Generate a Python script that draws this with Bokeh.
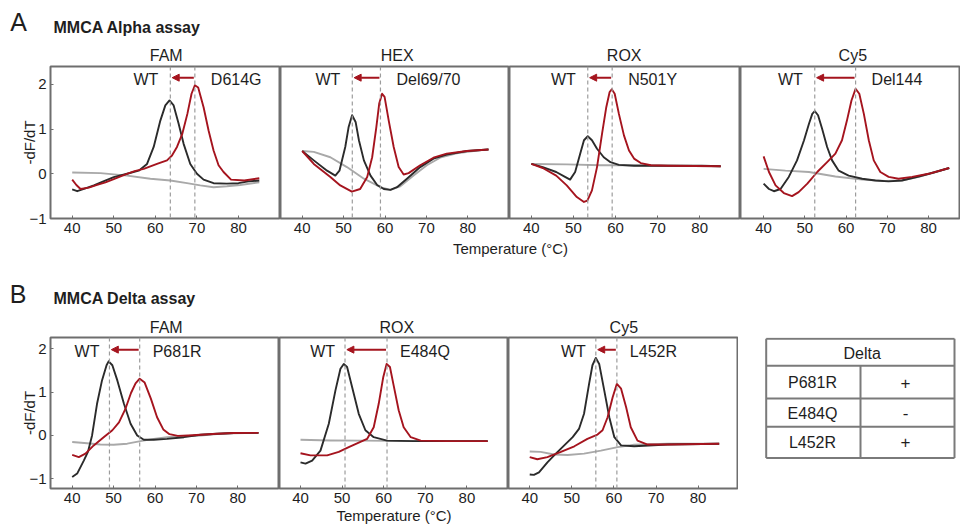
from bokeh.plotting import figure
from bokeh.layouts import column, row
from bokeh.models import Range1d, FixedTicker, Span, Arrow, NormalHead
from bokeh.core.properties import value
from bokeh.embed import file_html
from bokeh.resources import INLINE

FONT = "Liberation Sans"
BLACK = "#2b2b2b"
RED = "#a5141e"
GRAY = "#a9a9a9"
TXT = "#1e1e1e"
FRAME = "#6e6e6e"
DASH = "#9c9c9c"

XTICKS = [40, 50, 60, 70, 80]
YTICKS = [-1, 0, 1, 2]

# ---------------- Alpha assay (A) ----------------
a_fam_wt_t = [40, 41.2, 43, 45.2, 47.5, 50, 53.2, 56, 58, 59.6, 61.2, 62.4, 63.4, 64.4, 65.6, 66.8, 68.4, 70, 71.6, 74, 77.2, 80, 82.4, 85]
a_fam_wt_v = [-0.35, -0.39, -0.33, -0.26, -0.17, -0.075, 0.0, 0.07, 0.22, 0.6, 1.19, 1.53, 1.64, 1.53, 1.12, 0.67, 0.22, 0.0, -0.13, -0.21, -0.22, -0.21, -0.17, -0.15]
a_fam_mu_t = [40, 41, 42, 44, 46, 48, 50, 53, 55, 57.2, 60.4, 62.8, 64, 65.2, 66.5, 67.7, 68.7, 69.5, 70.3, 71.6, 72.8, 74, 75.2, 76.4, 78.2, 81.4, 85]
a_fam_mu_v = [-0.13, -0.25, -0.34, -0.31, -0.25, -0.19, -0.12, -0.01, 0.06, 0.11, 0.22, 0.3, 0.41, 0.6, 0.9, 1.34, 1.79, 1.98, 1.93, 1.49, 0.97, 0.52, 0.19, 0.04, -0.13, -0.15, -0.1]
a_fam_nc_t = [40, 46.8, 53.2, 58.8, 63.6, 67.6, 70.8, 74, 77.2, 80.4, 85]
a_fam_nc_v = [0.03, 0.015, -0.04, -0.11, -0.15, -0.21, -0.26, -0.3, -0.28, -0.25, -0.19]

a_hex_wt_t = [40, 42.8, 46, 48, 49, 50.4, 51.2, 52.05, 52.9, 53.7, 54.9, 56.5, 58.1, 59.7, 61.3, 62.9, 65.3, 68.5, 71.7, 74.9, 79.8, 85]
a_hex_wt_v = [0.51, 0.3, 0.07, -0.04, 0.07, 0.6, 1.04, 1.31, 1.16, 0.75, 0.3, -0.04, -0.25, -0.34, -0.36, -0.3, -0.11, 0.15, 0.34, 0.43, 0.51, 0.545]
a_hex_mu_t = [40, 42.8, 46.8, 49.2, 52, 54, 55.7, 56.9, 57.9, 58.6, 59.3, 59.9, 60.9, 62.1, 63.3, 64.5, 65.7, 68.5, 71.7, 74.9, 79.8, 85]
a_hex_mu_v = [0.51, 0.22, -0.07, -0.26, -0.4, -0.34, -0.07, 0.37, 1.04, 1.57, 1.79, 1.72, 1.19, 0.6, 0.15, -0.015, 0.015, 0.19, 0.36, 0.45, 0.51, 0.545]
a_hex_nc_t = [40, 42.8, 46.8, 50.8, 54.9, 58.9, 61.3, 63.7, 66.9, 70.1, 73.3, 77.3, 81.4, 85]
a_hex_nc_v = [0.51, 0.49, 0.37, 0.15, -0.11, -0.3, -0.36, -0.28, -0.04, 0.19, 0.36, 0.46, 0.51, 0.545]

a_rox_wt_t = [40, 42.7, 45.9, 48.0, 49.2, 50.4, 51.6, 52.5, 53.4, 54.4, 55.6, 57.2, 58.8, 60.8, 64.4, 72.5, 80.5, 85]
a_rox_wt_v = [0.22, 0.15, 0.04, -0.07, -0.13, 0.04, 0.45, 0.75, 0.84, 0.75, 0.56, 0.37, 0.26, 0.2, 0.18, 0.18, 0.18, 0.17]
a_rox_mu_t = [40, 42.7, 45.9, 48.4, 50.8, 52.5, 53.3, 54.4, 55.6, 56.8, 57.8, 58.6, 59.1, 59.8, 60.8, 62.0, 63.2, 64.4, 66.0, 68.4, 72.5, 85]
a_rox_mu_v = [0.22, 0.13, -0.04, -0.26, -0.52, -0.63, -0.6, -0.37, 0.15, 0.9, 1.49, 1.83, 1.89, 1.79, 1.34, 0.86, 0.52, 0.34, 0.24, 0.19, 0.18, 0.17]
a_rox_nc_t = [40, 48.4, 56.4, 64.4, 72.5, 85]
a_rox_nc_v = [0.22, 0.21, 0.19, 0.19, 0.18, 0.17]

a_cy5_wt_t = [40, 41.3, 42.5, 44.1, 46.1, 48.1, 49.8, 51.0, 51.8, 52.4, 53.2, 54.2, 55.4, 56.6, 58.2, 60.6, 63.9, 67.1, 70.3, 73.5, 77.6, 81.6, 85]
a_cy5_wt_v = [-0.22, -0.34, -0.39, -0.34, -0.07, 0.3, 0.75, 1.12, 1.34, 1.4, 1.31, 1.0, 0.6, 0.3, 0.07, -0.04, -0.11, -0.15, -0.17, -0.15, -0.06, 0.04, 0.13]
a_cy5_mu_t = [40, 41.3, 42.9, 44.9, 46.9, 48.5, 50.6, 53.0, 55.4, 57.4, 59.0, 60.2, 61.3, 62.3, 63.2, 64.3, 65.5, 66.7, 68.3, 70.3, 72.7, 76.0, 80.0, 85]
a_cy5_mu_v = [0.39, 0.04, -0.26, -0.43, -0.5, -0.41, -0.22, 0.04, 0.26, 0.45, 0.75, 1.19, 1.64, 1.9, 1.79, 1.34, 0.75, 0.3, 0.04, -0.07, -0.11, -0.07, 0.0, 0.13]
a_cy5_nc_t = [40, 45.3, 51.0, 57.4, 63.9, 69.5, 73.5, 77.6, 81.6, 85]
a_cy5_nc_v = [0.11, 0.07, 0.04, -0.06, -0.13, -0.16, -0.15, -0.07, 0.03, 0.13]

# ---------------- Delta assay (B) ----------------
b_fam_wt_t = [40, 41.2, 42.8, 43.8, 44.8, 46.0, 47.2, 48.3, 48.8, 49.7, 50.9, 52.5, 54.1, 55.7, 57.3, 59.7, 62.9, 67, 71, 75, 79, 85]
b_fam_wt_v = [-0.96, -0.88, -0.58, -0.38, 0.0, 0.73, 1.27, 1.62, 1.71, 1.62, 1.27, 0.73, 0.27, 0.0, -0.1, -0.1, -0.08, -0.04, 0.015, 0.04, 0.055, 0.06]
b_fam_mu_t = [40, 41.6, 43.2, 45.2, 47.6, 49.7, 51.3, 52.8, 54.2, 55.3, 56.3, 57.5, 59.0, 60.5, 62.0, 63.5, 65.5, 68, 71, 75, 79, 85]
b_fam_mu_v = [-0.45, -0.5, -0.42, -0.23, -0.04, 0.12, 0.3, 0.6, 0.98, 1.2, 1.31, 1.22, 0.85, 0.42, 0.14, 0.03, -0.01, 0.0, 0.015, 0.04, 0.055, 0.06]
b_fam_nc_t = [40, 43.6, 46.8, 50, 53.3, 56.5, 59.7, 62.9, 67, 71, 75, 79, 85]
b_fam_nc_v = [-0.15, -0.18, -0.21, -0.215, -0.19, -0.13, -0.08, -0.04, -0.02, 0.0, 0.03, 0.05, 0.06]

b_rox_wt_t = [40, 41.2, 42.8, 44.8, 46.8, 48.4, 49.6, 50.4, 51.2, 52.4, 54, 55.6, 57.6, 60.8, 67.3, 75.3, 85]
b_rox_wt_v = [-0.62, -0.65, -0.58, -0.35, 0.27, 1.04, 1.54, 1.65, 1.58, 1.12, 0.5, 0.12, -0.04, -0.12, -0.13, -0.13, -0.13]
b_rox_mu_t = [40, 42.4, 46.4, 49.2, 51.6, 54.4, 56, 57.6, 58.8, 59.9, 60.7, 61.5, 62.4, 63.6, 64.8, 66.5, 68.9, 75.3, 85]
b_rox_mu_v = [-0.41, -0.46, -0.46, -0.38, -0.27, -0.15, -0.08, 0.19, 0.73, 1.35, 1.65, 1.58, 1.15, 0.58, 0.19, -0.04, -0.12, -0.13, -0.13]
b_rox_nc_t = [40, 47.2, 55, 67.3, 85]
b_rox_nc_v = [-0.1, -0.115, -0.12, -0.13, -0.13]

b_cy5_wt_t = [40, 41, 42.2, 44.2, 46.2, 48.2, 50.2, 51.7, 52.9, 54.1, 54.9, 55.7, 56.5, 57.7, 58.9, 60.1, 61.7, 64.8, 72.8, 85]
b_cy5_wt_v = [-0.9, -0.91, -0.85, -0.62, -0.42, -0.23, -0.04, 0.15, 0.5, 1.19, 1.62, 1.79, 1.65, 1.04, 0.42, -0.04, -0.23, -0.25, -0.21, -0.19]
b_cy5_mu_t = [40, 41.8, 44.2, 47.4, 50.6, 53.7, 56.1, 57.3, 58.5, 59.7, 60.7, 61.7, 62.9, 64, 65.6, 68, 72.8, 85]
b_cy5_mu_v = [-0.5, -0.55, -0.5, -0.38, -0.25, -0.08, 0.02, 0.12, 0.42, 0.88, 1.19, 1.08, 0.65, 0.19, -0.12, -0.21, -0.21, -0.19]
b_cy5_nc_t = [40, 42.6, 45.8, 49, 52.9, 56.9, 60.9, 64.8, 72.8, 85]
b_cy5_nc_v = [-0.37, -0.38, -0.44, -0.45, -0.42, -0.35, -0.27, -0.215, -0.19, -0.19]

# melting temperatures (dashed lines) and labels
alpha_channels = ["FAM", "HEX", "ROX", "Cy5"]
alpha_mutations = ["D614G", "Del69/70", "N501Y", "Del144"]
alpha_wt_tm = [63.6, 52.1, 53.4, 52.4]
alpha_mu_tm = [69.5, 58.9, 59.2, 62.3]

delta_channels = ["FAM", "ROX", "Cy5"]
delta_mutations = ["P681R", "E484Q", "L452R"]
delta_wt_tm = [49.0, 50.7, 55.7]
delta_mu_tm = [56.3, 60.8, 60.7]

table_header = "Delta"
table_rows = ["P681R", "E484Q", "L452R"]
table_vals = ["+", "-", "+"]


def style_axis(ax):
    ax.axis_line_color = None
    ax.major_tick_in = 3
    ax.major_tick_out = 0
    ax.major_tick_line_color = FRAME
    ax.minor_tick_line_color = None
    ax.major_label_text_font = FONT
    ax.major_label_text_font_size = "15px"
    ax.major_label_text_color = TXT


def panel(width, height, xr, yr, min_left, min_right, min_bottom, yaxis, curves,
          wt_tm, mu_tm, mu_label, arrow_y, text_y, wt_off, mu_off, xlabel=None):
    p = figure(width=width, height=height, x_range=Range1d(*xr), y_range=Range1d(*yr),
               toolbar_location=None, output_backend="svg",
               min_border_left=min_left, min_border_right=min_right,
               min_border_top=1, min_border_bottom=min_bottom,
               y_axis_location="left" if yaxis else None)
    p.xgrid.visible = False
    p.ygrid.visible = False
    p.outline_line_color = FRAME
    p.outline_line_width = 2
    p.xaxis.ticker = FixedTicker(ticks=XTICKS)
    style_axis(p.xaxis[0])
    p.xaxis.major_label_standoff = 4
    if xlabel:
        p.xaxis.axis_label = xlabel
        p.xaxis.axis_label_text_font = FONT
        p.xaxis.axis_label_text_font_size = "15px"
        p.xaxis.axis_label_text_font_style = "normal"
        p.xaxis.axis_label_text_color = TXT
        p.xaxis.axis_label_standoff = 1
    if yaxis:
        p.yaxis.ticker = FixedTicker(ticks=YTICKS)
        style_axis(p.yaxis[0])
        p.yaxis.major_label_standoff = 4
        p.yaxis.axis_label = "-dF/dT"
        p.yaxis.axis_label_text_font = FONT
        p.yaxis.axis_label_text_font_size = "15px"
        p.yaxis.axis_label_text_font_style = "normal"
        p.yaxis.axis_label_text_color = TXT
        p.yaxis.axis_label_standoff = -12
    for tm in (wt_tm, mu_tm):
        p.add_layout(Span(location=tm, dimension="height", line_color=DASH,
                          line_dash="4 3", line_width=1.2))
    for t, v, c in curves:
        p.line(t, v, line_color=c, line_width=1.9, line_join="round")
    p.add_layout(Arrow(end=NormalHead(size=7, line_color=RED, fill_color=RED, line_width=1),
                       x_start=mu_tm - 0.25, x_end=wt_tm + 0.45, y_start=arrow_y, y_end=arrow_y,
                       line_color=RED, line_width=2))
    p.text(x=[wt_tm], y=[text_y], text=["WT"], x_offset=wt_off, text_align="right",
           text_baseline="middle", text_font=value(FONT), text_font_size="16px", text_color=TXT)
    p.text(x=[mu_tm], y=[text_y], text=[mu_label], x_offset=mu_off, text_align="left",
           text_baseline="middle", text_font=value(FONT), text_font_size="16px", text_color=TXT)
    return p


def blank(width, height):
    p = figure(width=width, height=height, x_range=Range1d(0, width), y_range=Range1d(height, 0),
               toolbar_location=None, output_backend="svg", min_border=0,
               x_axis_location=None, y_axis_location=None)
    p.xgrid.visible = False
    p.ygrid.visible = False
    p.outline_line_color = None
    return p


def txt(p, x, y, s, size="16px", align="center", style="normal"):
    p.text(x=[x], y=[y], text=[s], text_align=align, text_baseline="middle",
           text_font=value(FONT), text_font_size=size, text_font_style=style, text_color=TXT)


# ---------- header A (page y 0-65) ----------
hA = blank(960, 65)
txt(hA, 18, 21, "A", size="25px")
txt(hA, 53, 27, "MMCA Alpha assay", size="16px", align="left", style="bold")
for cx, name in zip([165.7, 396.7, 623.7, 852.3], alpha_channels):
    txt(hA, cx, 55, name)

# ---------- row A (page y 65-240) ----------
YA = (-1.0, 2.40)
a_curves = [
    [(a_fam_nc_t, a_fam_nc_v, GRAY), (a_fam_wt_t, a_fam_wt_v, BLACK), (a_fam_mu_t, a_fam_mu_v, RED)],
    [(a_hex_nc_t, a_hex_nc_v, GRAY), (a_hex_wt_t, a_hex_wt_v, BLACK), (a_hex_mu_t, a_hex_mu_v, RED)],
    [(a_rox_nc_t, a_rox_nc_v, GRAY), (a_rox_wt_t, a_rox_wt_v, BLACK), (a_rox_mu_t, a_rox_mu_v, RED)],
    [(a_cy5_nc_t, a_cy5_nc_v, GRAY), (a_cy5_wt_t, a_cy5_wt_v, BLACK), (a_cy5_mu_t, a_cy5_mu_v, RED)],
]
a_specs = [
    (280, (34.78, 90.1), 50, True),
    (229, (34.76, 90.07), 0, False),
    (231, (34.8, 89.7), 0, False),
    (220, (34.4, 87.73), 0, False),
]
rowA = []
for i, (w, xr, ml, ya) in enumerate(a_specs):
    rowA.append(panel(w, 175, xr, YA, ml, 0, 22, ya, a_curves[i], alpha_wt_tm[i], alpha_mu_tm[i],
                      alpha_mutations[i], 2.15, 2.1, -12, 16))

# ---------- header B (page y 240-336) ----------
hB = blank(960, 96)
txt(hB, 510, 8.3, "Temperature (°C)", size="15px")
txt(hB, 17.5, 53.5, "B", size="25px")
txt(hB, 53, 58.3, "MMCA Delta assay", size="16px", align="left", style="bold")
for cx, name in zip([165.7, 396.3, 623.3], delta_channels):
    txt(hB, cx, 86.5, name)

# ---------- row B (page y 336-527) ----------
YB = (-1.224, 2.26)
b_curves = [
    [(b_fam_nc_t, b_fam_nc_v, GRAY), (b_fam_wt_t, b_fam_wt_v, BLACK), (b_fam_mu_t, b_fam_mu_v, RED)],
    [(b_rox_nc_t, b_rox_nc_v, GRAY), (b_rox_wt_t, b_rox_wt_v, BLACK), (b_rox_mu_t, b_rox_mu_v, RED)],
    [(b_cy5_nc_t, b_cy5_nc_v, GRAY), (b_cy5_wt_t, b_cy5_wt_v, BLACK), (b_cy5_mu_t, b_cy5_mu_v, RED)],
]
b_specs = [
    (279, (34.76, 90.07), 50, 0, True, None),
    (229, (34.95, 90.0), 0, 0, False, "Temperature (°C)"),
    (230, (34.96, 89.35), 0, 1, False, None),
]
rowB = []
for i, (w, xr, ml, mr, ya, xl) in enumerate(b_specs):
    rowB.append(panel(w, 191, xr, YB, ml, mr, 39, ya, b_curves[i], delta_wt_tm[i], delta_mu_tm[i],
                      delta_mutations[i], 1.98, 1.93, -10, 13, xlabel=xl))

# ---------- table (page x 738-960) ----------
tb = blank(222, 191)
tx0, tx1, tdiv = 27.7, 216, 122
ty = [1.7, 35.7, 77.3, 113, 152.3]
tb.segment(x0=[tx0] * len(ty), y0=ty, x1=[tx1] * len(ty), y1=ty, line_color="#7a7a7a", line_width=2)
tb.segment(x0=[tx0, tx1, tdiv], y0=[ty[0], ty[0], ty[1]], x1=[tx0, tx1, tdiv], y1=[ty[-1], ty[-1], ty[-1]],
           line_color="#7a7a7a", line_width=2)
txt(tb, 123.7, 20, table_header, size="16px")
for yy, name, val in zip([57.3, 95.7, 132.3], table_rows, table_vals):
    txt(tb, 74, yy, name, size="16px")
    txt(tb, 167, yy, val, size="17px")

layout = column(hA, row(*rowA), hB, row(*rowB, tb))
open("out.html", "w").write(file_html(layout, INLINE))
